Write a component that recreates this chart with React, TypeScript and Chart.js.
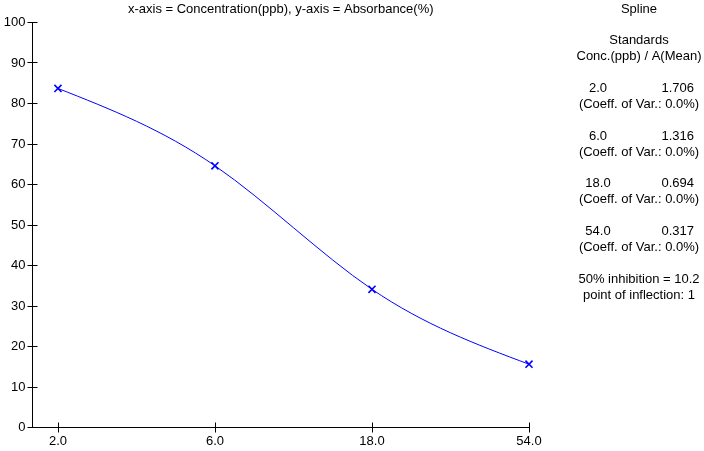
import { useEffect, useRef } from "react";
import { Chart, registerables } from "chart.js";

Chart.register(...registerables);

// ---- data ----
const concentrations = [2, 6, 18, 54];
const absorbancePct = [83.6, 64.5, 34.0, 15.5];
const xTickLabels = ["2.0", "6.0", "18.0", "54.0"];
const yTickValues = [0, 10, 20, 30, 40, 50, 60, 70, 80, 90, 100];
const meanAbsorbance = ["1.706", "1.316", "0.694", "0.317"];
const coeffOfVar = ["0.0%", "0.0%", "0.0%", "0.0%"];
const chartTitle = "x-axis = Concentration(ppb), y-axis = Absorbance(%)";
const fitName = "Spline";
const inhibition50 = "10.2";
const inflectionPoint = "1";

const FONT = '13px "Liberation Sans", Arial, sans-serif';
const BLUE = "#0000ff";

// natural cubic spline (in pixel space of the log axis) applied to the dataset's own points
const naturalSplinePlugin = {
  id: "naturalSpline",
  beforeDatasetDraw(chart: any, args: any) {
    const meta = args.meta;
    if (meta.type !== "line") return;
    const pts = meta.data;
    const n = pts.length;
    if (n < 3) return;
    const xs = pts.map((p: any) => p.x);
    const ys = pts.map((p: any) => p.y);
    const h: number[] = [];
    for (let i = 0; i < n - 1; i++) h.push(xs[i + 1] - xs[i]);
    const M = new Array(n).fill(0);
    const m = n - 2;
    const a: number[] = [], b: number[] = [], c: number[] = [], d: number[] = [];
    for (let k = 0; k < m; k++) {
      const i = k + 1;
      a.push(h[i - 1]);
      b.push(2 * (h[i - 1] + h[i]));
      c.push(h[i]);
      d.push(6 * ((ys[i + 1] - ys[i]) / h[i] - (ys[i] - ys[i - 1]) / h[i - 1]));
    }
    for (let k = 1; k < m; k++) {
      const w = a[k] / b[k - 1];
      b[k] -= w * c[k - 1];
      d[k] -= w * d[k - 1];
    }
    const sol = new Array(m).fill(0);
    sol[m - 1] = d[m - 1] / b[m - 1];
    for (let k = m - 2; k >= 0; k--) sol[k] = (d[k] - c[k] * sol[k + 1]) / b[k];
    for (let k = 0; k < m; k++) M[k + 1] = sol[k];
    for (let i = 0; i < n - 1; i++) {
      const sec = (ys[i + 1] - ys[i]) / h[i];
      const s = sec - (h[i] * (2 * M[i] + M[i + 1])) / 6;
      const e = sec + (h[i] * (M[i] + 2 * M[i + 1])) / 6;
      pts[i].cp2x = xs[i] + h[i] / 3;
      pts[i].cp2y = ys[i] + (s * h[i]) / 3;
      pts[i + 1].cp1x = xs[i + 1] - h[i] / 3;
      pts[i + 1].cp1y = ys[i + 1] - (e * h[i]) / 3;
    }
    pts[0].cp1x = xs[0];
    pts[0].cp1y = ys[0];
    pts[n - 1].cp2x = xs[n - 1];
    pts[n - 1].cp2y = ys[n - 1];
    meta.dataset._pointsUpdated = true;
    meta.dataset._path = undefined;
  },
};

const axesAndTextPlugin = {
  id: "axesAndText",
  afterDraw(chart: any) {
    const ctx = chart.ctx;
    const xs = chart.scales.x;
    const ys = chart.scales.y;
    const area = chart.chartArea;
    const r = (v: number) => Math.round(v) + 0.5;
    ctx.save();
    ctx.strokeStyle = "#000";
    ctx.lineWidth = 1;
    const x0 = r(area.left);
    const yBottom = r(ys.getPixelForValue(0));
    const yTop = r(ys.getPixelForValue(100));
    const xEnd = r(xs.getPixelForValue(concentrations[concentrations.length - 1]));
    ctx.beginPath();
    ctx.moveTo(x0, yTop);
    ctx.lineTo(x0, yBottom);
    ctx.moveTo(x0, yBottom);
    ctx.lineTo(xEnd, yBottom);
    yTickValues.forEach((v) => {
      const py = r(ys.getPixelForValue(v));
      ctx.moveTo(x0 - 5, py);
      ctx.lineTo(x0 + 5, py);
    });
    concentrations.forEach((v) => {
      const px = r(xs.getPixelForValue(v));
      ctx.moveTo(px, yBottom - 5);
      ctx.lineTo(px, yBottom + 5);
    });
    ctx.stroke();

    ctx.fillStyle = "#000";
    ctx.font = FONT;
    ctx.textAlign = "right";
    ctx.textBaseline = "middle";
    yTickValues.forEach((v) => {
      ctx.fillText(String(v), x0 - 7, ys.getPixelForValue(v) + 0.5);
    });
    ctx.textAlign = "center";
    concentrations.forEach((v, i) => {
      ctx.fillText(xTickLabels[i], xs.getPixelForValue(v), yBottom + 14);
    });

    // title, centred over the plot area
    ctx.fillText(chartTitle, (area.left + xEnd) / 2, 9);

    // right panel
    const cx = 639;
    const lh = 15.9;
    const line = (k: number) => 9 + lh * k;
    ctx.textAlign = "center";
    ctx.fillText(fitName, cx, line(0));
    ctx.fillText("Standards", cx, line(2));
    ctx.fillText("Conc.(ppb) / A(Mean)", cx, line(3));
    concentrations.forEach((_, i) => {
      const k = 5 + i * 3;
      ctx.textAlign = "center";
      ctx.fillText(xTickLabels[i], 598, line(k));
      ctx.textAlign = "right";
      ctx.fillText(meanAbsorbance[i], 694, line(k));
      ctx.textAlign = "center";
      ctx.fillText("(Coeff. of Var.: " + coeffOfVar[i] + ")", cx, line(k + 1));
    });
    ctx.textAlign = "center";
    ctx.fillText("50% inhibition = " + inhibition50, cx, line(17));
    ctx.fillText("point of inflection: " + inflectionPoint, cx, line(18));
    ctx.restore();
  },
};

export default function App() {
  const ref = useRef<HTMLCanvasElement | null>(null);
  useEffect(() => {
    if (!ref.current) return;
    const chart = new Chart(ref.current, {
      type: "line",
      data: {
        datasets: [
          {
            data: concentrations.map((c, i) => ({ x: c, y: absorbancePct[i] })),
            borderColor: BLUE,
            borderWidth: 1,
            tension: 0.4,
            pointStyle: "crossRot",
            pointRadius: 5,
            pointBorderWidth: 1.6,
            pointBorderColor: BLUE,
            pointBackgroundColor: BLUE,
            fill: false,
            clip: false,
          },
        ],
      },
      options: {
        responsive: false,
        animation: false,
        devicePixelRatio: 1,
        layout: { padding: { left: 32, top: 22, right: 175, bottom: 24 } },
        plugins: { legend: { display: false }, tooltip: { enabled: false }, title: { display: false } },
        scales: {
          x: { type: "logarithmic", min: 1.668, max: 54, display: false },
          y: { type: "linear", min: 0, max: 100, display: false },
        },
        events: [],
      },
      plugins: [naturalSplinePlugin, axesAndTextPlugin],
    });
    return () => chart.destroy();
  }, []);
  return (
    <div style={{ position: "absolute", left: 0, top: 0, width: 704, height: 451, background: "#fff" }}>
      <canvas ref={ref} width={704} height={451} />
    </div>
  );
}
